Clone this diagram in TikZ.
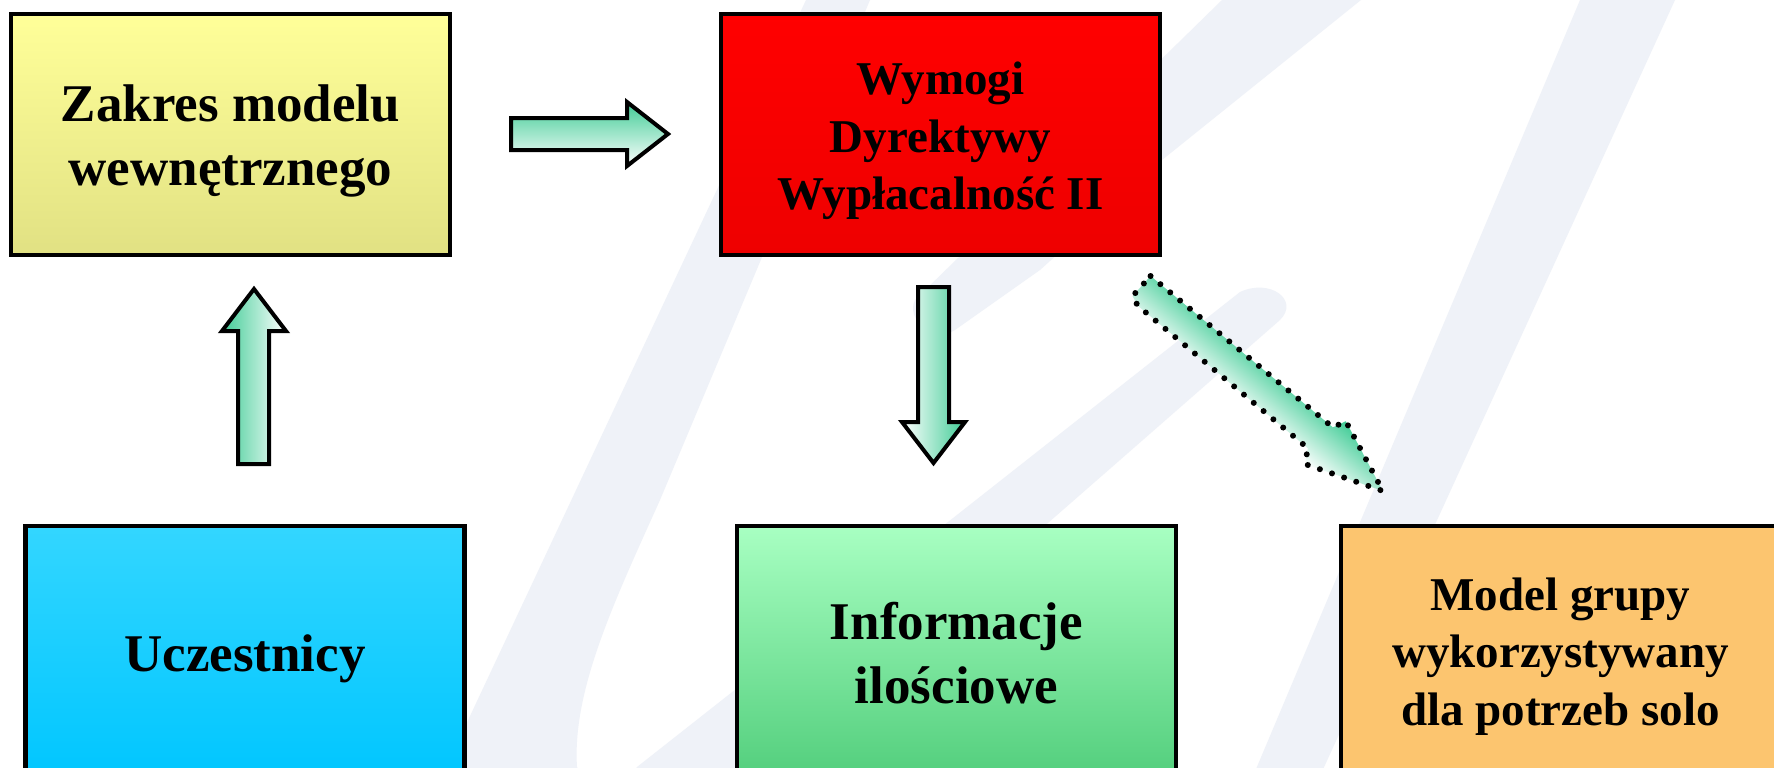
\documentclass[tikz,border=0pt]{standalone}
\usepackage{fontspec}
\setmainfont{Liberation Serif}
\definecolor{wm}{RGB}{239,242,248}
\definecolor{yelTop}{RGB}{255,255,153}
\definecolor{yelBot}{RGB}{225,225,131}
\definecolor{redTop}{RGB}{255,0,0}
\definecolor{redBot}{RGB}{238,0,0}
\definecolor{blueTop}{RGB}{51,214,255}
\definecolor{blueBot}{RGB}{0,198,255}
\definecolor{greenTop}{RGB}{168,255,194}
\definecolor{greenBot}{RGB}{82,206,124}
\definecolor{orangeBox}{RGB}{252,197,111}
\definecolor{arrowGreen}{RGB}{64,204,150}
\begin{document}
\begin{tikzpicture}[x=0.5pt,y=-0.5pt,
  box/.style={draw=black,line width=2.2pt,minimum width=219.5pt,minimum height=120.5pt,inner sep=0pt},
  tallbox/.style={box,minimum height=127pt},
  bigtext/.style={align=center,inner sep=0pt,font=\bfseries\fontsize{26.5pt}{32pt}\selectfont},
  smalltext/.style={align=center,inner sep=0pt,font=\bfseries\fontsize{23.5pt}{28.8pt}\selectfont},
  blockarrow/.style={draw=black,line width=2pt,line join=miter},
  dotborder/.style={draw=black,line width=3pt,dash pattern=on 0pt off 6.4pt,line cap=round}
]
\useasboundingbox (0,0) rectangle (1774,767);
\clip (0,0) rectangle (1774,767);
\fill[white] (0,0) rectangle (1774,767);
% watermark
\fill[wm] (806,0) -- (440,780) -- (440,800) -- (731,800) -- (1120,460) -- (1280,320)
  .. controls (1300,300) and (1270,278) .. (1240,292) -- (637,767) -- (620,790) -- (590,790)
  -- (577,767) .. controls (572,690) and (615,600) .. (660,500) -- (870,0) -- cycle;
\fill[wm] (1222,0) -- (1361,0) -- (1162,160) -- (1040,270) -- (955,330)
  .. controls (935,343) and (905,320) .. (915,300) -- cycle;
\fill[wm] (1580,0) -- (1675,0) -- (1309,800) -- (1243,800) -- cycle;
% boxes
\node[box,top color=yelTop,bottom color=yelBot] (zakres) at (230.5,134.5) {};
\node[box,top color=redTop,bottom color=redBot] (wymogi) at (940.5,134.5) {};
\node[tallbox,top color=blueTop,bottom color=blueBot] (uczestnicy) at (245,653) {};
\node[tallbox,top color=greenTop,bottom color=greenBot] (informacje) at (956.5,653) {};
\node[tallbox,fill=orangeBox] (model) at (1560.5,653) {};
% texts
\node[bigtext] (zakresT) at ([yshift=-3.4pt]zakres.center) {Zakres modelu\\wewnętrznego};
\node[smalltext] (wymogiT) at ([yshift=-3.2pt]wymogi.center) {Wymogi\\Dyrektywy\\Wypłacalność II};
\node[bigtext] (uczestnicyT) at ([yshift=-2.8pt]uczestnicy.center) {Uczestnicy};
\node[bigtext] (informacjeT) at ([yshift=-0.2pt]informacje.center) {Informacje\\ilościowe};
\node[smalltext] (modelT) at ([yshift=-1.7pt]model.center) {Model grupy\\wykorzystywany\\dla potrzeb solo};
% block arrows
\path[blockarrow,top color=arrowGreen,bottom color=white]
  (511,118) -- (627,118) -- (627,102) -- (668,134) -- (627,166) -- (627,150) -- (511,150) -- cycle;
\path[blockarrow,left color=arrowGreen,right color=white]
  (238,464) -- (238,331) -- (222,331) -- (254,289) -- (286,331) -- (269,331) -- (269,464) -- cycle;
\path[blockarrow,left color=white,right color=arrowGreen]
  (918,287) -- (949,287) -- (949,422) -- (965,422) -- (933.5,463) -- (902,422) -- (918,422) -- cycle;
\begin{scope}[transform canvas={shift={(1142,291)},rotate=-39.7}]
  \path[top color=arrowGreen,bottom color=white]
    (-3,-17) -- (234,-17) -- (240,-30) -- (313,0) -- (236,29) -- (228,15) -- (6,14) -- (-4,10) -- cycle;
  \path[dotborder]
    (-3,-17) -- (234,-17) -- (240,-30) -- (313,0) -- (236,29) -- (228,15) -- (6,14) -- (-4,10) -- cycle;
\end{scope}
\end{tikzpicture}
\end{document}
